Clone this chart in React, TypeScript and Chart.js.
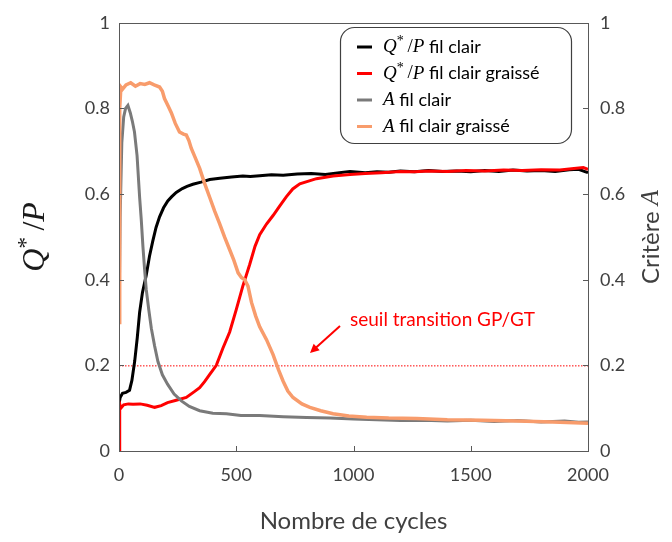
import React, { useEffect, useRef } from "react";
import { Chart, registerables } from "chart.js";
Chart.register(...registerables);

// ---- Data ----
const blackCycles = [0, 5, 15, 30, 45, 55, 67, 78, 88, 100, 116, 130, 144, 158, 173, 190, 208, 225, 244, 270, 290, 315, 350, 387, 430, 480, 528, 560, 600, 650, 700, 760, 820, 880, 940, 985, 1050, 1100, 1150, 1200, 1260, 1320, 1380, 1440, 1500, 1560, 1620, 1680, 1740, 1800, 1860, 1920, 1960, 1990, 2000];
const blackQ = [0.11, 0.125, 0.135, 0.137, 0.142, 0.165, 0.21, 0.265, 0.324, 0.37, 0.41, 0.455, 0.49, 0.522, 0.547, 0.568, 0.584, 0.594, 0.604, 0.613, 0.618, 0.623, 0.628, 0.634, 0.637, 0.64, 0.642, 0.641, 0.643, 0.645, 0.644, 0.647, 0.648, 0.646, 0.65, 0.653, 0.65, 0.652, 0.651, 0.654, 0.652, 0.655, 0.653, 0.654, 0.652, 0.655, 0.653, 0.656, 0.654, 0.655, 0.653, 0.657, 0.658, 0.652, 0.65];

const redCycles = [0, 3, 8, 20, 40, 60, 90, 120, 152, 180, 207, 240, 287, 320, 344, 365, 387, 415, 443, 472, 500, 528, 557, 580, 600, 629, 657, 685, 714, 741, 771, 842, 913, 985, 1050, 1120, 1198, 1260, 1320, 1400, 1480, 1560, 1640, 1720, 1800, 1880, 1940, 1980, 2000];
const redQ = [0.0, 0.11, 0.1, 0.108, 0.11, 0.109, 0.11, 0.107, 0.102, 0.106, 0.113, 0.118, 0.125, 0.138, 0.148, 0.162, 0.179, 0.2, 0.24, 0.278, 0.33, 0.385, 0.435, 0.478, 0.505, 0.53, 0.55, 0.572, 0.594, 0.612, 0.624, 0.636, 0.642, 0.646, 0.648, 0.65, 0.653, 0.652, 0.654, 0.653, 0.655, 0.654, 0.656, 0.655, 0.657, 0.656, 0.66, 0.662, 0.658];

const grayCycles = [0, 5, 12, 20, 28, 38, 48, 57, 66, 77, 88, 95, 102, 109, 116, 127, 138, 152, 166, 185, 207, 235, 266, 300, 344, 400, 458, 520, 600, 700, 800, 900, 1000, 1100, 1200, 1300, 1400, 1500, 1600, 1700, 1800, 1900, 1960, 2000];
const grayA = [0.3, 0.55, 0.72, 0.78, 0.8, 0.807, 0.79, 0.77, 0.745, 0.69, 0.592, 0.54, 0.478, 0.425, 0.378, 0.33, 0.286, 0.245, 0.209, 0.178, 0.156, 0.133, 0.117, 0.104, 0.094, 0.088, 0.087, 0.083, 0.083, 0.08, 0.078, 0.077, 0.075, 0.073, 0.071, 0.072, 0.07, 0.072, 0.069, 0.071, 0.068, 0.07, 0.067, 0.068];

const orangeCycles = [0, 3, 8, 15, 30, 50, 70, 90, 110, 130, 150, 173, 185, 194, 210, 223, 240, 258, 275, 287, 298, 308, 325, 344, 365, 387, 408, 429, 450, 472, 490, 508, 522, 536, 550, 565, 583, 600, 629, 657, 680, 700, 720, 742, 780, 814, 860, 913, 980, 1056, 1150, 1270, 1400, 1550, 1700, 1850, 2000];
const orangeA = [0.3, 0.8, 0.85, 0.845, 0.855, 0.86, 0.852, 0.858, 0.856, 0.86, 0.855, 0.85, 0.84, 0.823, 0.805, 0.79, 0.765, 0.745, 0.74, 0.738, 0.725, 0.707, 0.685, 0.66, 0.625, 0.592, 0.56, 0.531, 0.5, 0.47, 0.445, 0.416, 0.405, 0.4, 0.385, 0.347, 0.315, 0.29, 0.26, 0.225, 0.19, 0.163, 0.14, 0.125, 0.11, 0.102, 0.094, 0.087, 0.082, 0.079, 0.077, 0.076, 0.073, 0.072, 0.07, 0.068, 0.065];

const xTickValues = [0, 500, 1000, 1500, 2000];
const yTickValues = [0, 0.2, 0.4, 0.6, 0.8, 1];
const threshold = 0.2;
const thresholdLabel = "seuil transition GP/GT";
const xTitle = "Nombre de cycles";
const rightTitle = "Critère ";

const COLORS = { black: "#000000", red: "#ff0000", gray: "#7a7a7a", orange: "#f89c6c" };

const SANS = "Lato";
const SERIF = '"Liberation Serif"';

type Run = { t: string; font: string; dy?: number; color?: string };

function runsWidth(ctx: CanvasRenderingContext2D, runs: Run[]) {
  let w = 0;
  for (const r of runs) { ctx.font = r.font; w += ctx.measureText(r.t).width; }
  return w;
}
function drawRuns(ctx: CanvasRenderingContext2D, runs: Run[], x: number, y: number, color: string) {
  ctx.textBaseline = "middle";
  ctx.textAlign = "left";
  for (const r of runs) {
    ctx.font = r.font;
    ctx.fillStyle = r.color || color;
    ctx.fillText(r.t, x, y + (r.dy || 0));
    x += ctx.measureText(r.t).width;
  }
}
function qpRuns(s: number): Run[] {
  return [
    { t: "Q", font: `italic ${s}px ${SERIF}` },
    { t: "*", font: `${Math.round(s * 0.72)}px ${SERIF}`, dy: -s * 0.28 },
    { t: "\u2009/", font: `${s}px ${SERIF}` },
    { t: "P", font: `italic ${s}px ${SERIF}` },
  ];
}

const legendItems = [
  { color: COLORS.black, q: true, label: " fil clair" },
  { color: COLORS.red, q: true, label: " fil clair graissé" },
  { color: COLORS.gray, q: false, label: " fil clair" },
  { color: COLORS.orange, q: false, label: " fil clair graissé" },
];

const decorPlugin = {
  id: "decor",
  beforeDatasetsDraw(chart: any) {
    const { ctx, chartArea, scales } = chart;
    const y = scales.y.getPixelForValue(threshold);
    ctx.save();
    ctx.strokeStyle = "#ff0000";
    ctx.lineWidth = 1;
    ctx.setLineDash([1.5, 1.5]);
    ctx.beginPath();
    ctx.moveTo(chartArea.left, y + 0.5);
    ctx.lineTo(chartArea.right, y + 0.5);
    ctx.stroke();
    ctx.restore();
  },
  afterDraw(chart: any) {
    const { ctx, chartArea: a, scales } = chart;
    ctx.save();
    // frame
    ctx.strokeStyle = "#595959";
    ctx.lineWidth = 1;
    ctx.strokeRect(Math.round(a.left) + 0.5, Math.round(a.top) + 0.5, Math.round(a.right - a.left), Math.round(a.bottom - a.top));
    // inner ticks
    ctx.beginPath();
    for (const v of xTickValues) {
      const x = Math.round(scales.x.getPixelForValue(v)) + 0.5;
      ctx.moveTo(x, a.bottom);
      ctx.lineTo(x, a.bottom - 5);
    }
    for (const v of yTickValues) {
      const y = Math.round(scales.y.getPixelForValue(v)) + 0.5;
      ctx.moveTo(a.left, y);
      ctx.lineTo(a.left + 5, y);
      ctx.moveTo(a.right, y);
      ctx.lineTo(a.right - 5, y);
    }
    ctx.stroke();

    // annotation
    ctx.fillStyle = "#ff0000";
    ctx.font = `19px ${SANS}`;
    ctx.textBaseline = "middle";
    ctx.textAlign = "left";
    ctx.fillText(thresholdLabel, 350, 320);
    const x0 = 340, y0 = 326, x1 = 310, y1 = 353;
    ctx.strokeStyle = "#ff0000";
    ctx.lineWidth = 2;
    const ang = Math.atan2(y1 - y0, x1 - x0);
    ctx.beginPath();
    ctx.moveTo(x0, y0);
    ctx.lineTo(x1 - 6 * Math.cos(ang), y1 - 6 * Math.sin(ang));
    ctx.stroke();
    ctx.beginPath();
    ctx.moveTo(x1, y1);
    ctx.lineTo(x1 - 9 * Math.cos(ang) + 4.5 * Math.sin(ang), y1 - 9 * Math.sin(ang) - 4.5 * Math.cos(ang));
    ctx.lineTo(x1 - 9 * Math.cos(ang) - 4.5 * Math.sin(ang), y1 - 9 * Math.sin(ang) + 4.5 * Math.cos(ang));
    ctx.closePath();
    ctx.fill();

    // legend box
    const bx = 340.5, by = 27.5, bw = 231, bh = 116, r = 14;
    ctx.fillStyle = "#ffffff";
    ctx.strokeStyle = "#404040";
    ctx.lineWidth = 1.2;
    ctx.beginPath();
    ctx.moveTo(bx + r, by);
    ctx.arcTo(bx + bw, by, bx + bw, by + bh, r);
    ctx.arcTo(bx + bw, by + bh, bx, by + bh, r);
    ctx.arcTo(bx, by + bh, bx, by, r);
    ctx.arcTo(bx, by, bx + bw, by, r);
    ctx.closePath();
    ctx.fill();
    ctx.stroke();
    legendItems.forEach((it, i) => {
      const cy = 47 + i * 26.5;
      ctx.strokeStyle = it.color;
      ctx.lineWidth = 3;
      ctx.beginPath();
      ctx.moveTo(357, cy);
      ctx.lineTo(372, cy);
      ctx.stroke();
      const runs: Run[] = it.q ? qpRuns(19) : [{ t: "A", font: `italic 19px ${SERIF}` }];
      runs.push({ t: it.label, font: `18px ${SANS}` });
      drawRuns(ctx, runs, 383, cy, "#000000");
    });

    // axis titles
    ctx.fillStyle = "#404040";
    ctx.font = `24px ${SANS}`;
    ctx.textAlign = "center";
    ctx.textBaseline = "middle";
    const cx = (a.left + a.right) / 2;
    const cyMid = (a.top + a.bottom) / 2;
    ctx.fillText(xTitle, cx, 521);

    // left title
    const lr = qpRuns(32);
    ctx.save();
    ctx.translate(36, cyMid);
    ctx.rotate(-Math.PI / 2);
    const lw = runsWidth(ctx, lr);
    drawRuns(ctx, lr, -lw / 2, 0, "#1a1a1a");
    ctx.restore();

    // right title
    const rr: Run[] = [
      { t: rightTitle, font: `24px ${SANS}` },
      { t: "A", font: `italic 25px ${SERIF}` },
    ];
    ctx.save();
    ctx.translate(651, cyMid);
    ctx.rotate(-Math.PI / 2);
    const rw = runsWidth(ctx, rr);
    drawRuns(ctx, rr, -rw / 2, 0, "#404040");
    ctx.restore();

    ctx.restore();
  },
};

const fmt = (v: any) => String(Math.round(Number(v) * 10) / 10);

export default function App() {
  const ref = useRef<HTMLCanvasElement>(null);
  useEffect(() => {
    if (!ref.current) return;
    const pts = (xs: number[], ys: number[]) => xs.map((x, i) => ({ x, y: ys[i] }));
    const tickFont = { family: SANS, size: 18 };
    const chart = new Chart(ref.current, {
      type: "line",
      data: {
        datasets: [
          { label: "Q*/P fil clair", data: pts(blackCycles, blackQ), borderColor: COLORS.black, borderWidth: 3, pointRadius: 0, yAxisID: "y", order: 4 },
          { label: "Q*/P fil clair graissé", data: pts(redCycles, redQ), borderColor: COLORS.red, borderWidth: 3, pointRadius: 0, yAxisID: "y", order: 3 },
          { label: "A fil clair", data: pts(grayCycles, grayA), borderColor: COLORS.gray, borderWidth: 3, pointRadius: 0, yAxisID: "y1", order: 2 },
          { label: "A fil clair graissé", data: pts(orangeCycles, orangeA), borderColor: COLORS.orange, borderWidth: 3.5, pointRadius: 0, yAxisID: "y1", order: 1 },
        ],
      },
      options: {
        animation: false,
        responsive: true,
        maintainAspectRatio: false,
        layout: { padding: { top: 16, left: 0, right: 0, bottom: 0 } },
        plugins: { legend: { display: false }, tooltip: { enabled: false } },
        elements: { line: { tension: 0 } },
        scales: {
          x: {
            type: "linear",
            min: 0,
            max: 2000,
            afterBuildTicks: (s: any) => { s.ticks = xTickValues.map((v) => ({ value: v })); },
            grid: { display: false, drawTicks: false },
            border: { display: false },
            ticks: { font: tickFont, color: "#404040", padding: 13, maxRotation: 0, callback: (v: any) => String(v) },
            afterFit: (s: any) => { s.height = 91; },
          },
          y: {
            position: "left",
            min: 0,
            max: 1,
            afterBuildTicks: (s: any) => { s.ticks = yTickValues.map((v) => ({ value: v })); },
            grid: { display: false, drawTicks: false },
            border: { display: false },
            ticks: { font: tickFont, color: "#404040", padding: 9, callback: fmt },
            afterFit: (s: any) => { s.width = 119; },
          },
          y1: {
            position: "right",
            min: 0,
            max: 1,
            afterBuildTicks: (s: any) => { s.ticks = yTickValues.map((v) => ({ value: v })); },
            grid: { display: false, drawTicks: false },
            border: { display: false },
            ticks: { font: tickFont, color: "#404040", padding: 12, callback: fmt },
            afterFit: (s: any) => { s.width = 84; },
          },
        },
      },
      plugins: [decorPlugin],
    });
    return () => chart.destroy();
  }, []);
  return (
    <div style={{ position: "absolute", left: 0, top: 0, width: 672, height: 542, background: "#ffffff" }}>
      <canvas ref={ref} />
    </div>
  );
}
